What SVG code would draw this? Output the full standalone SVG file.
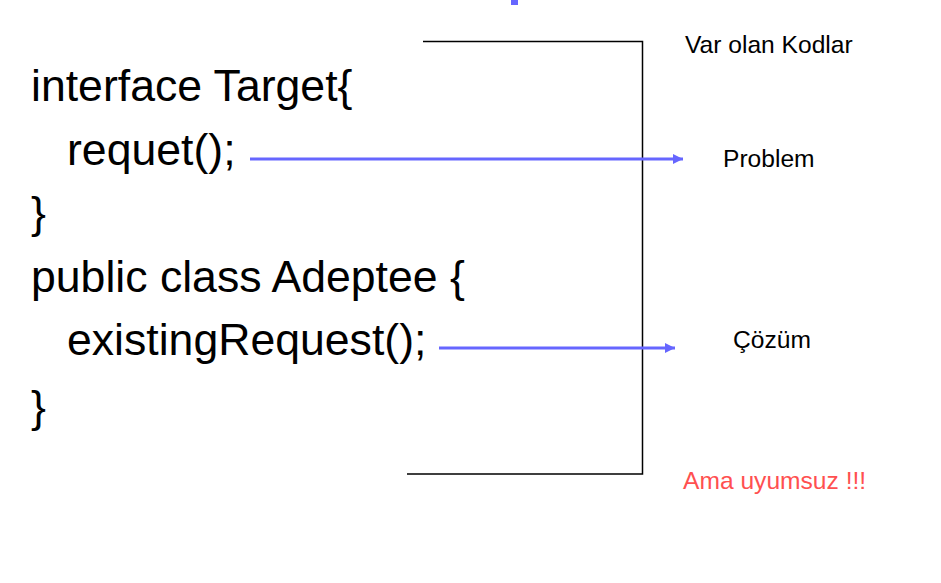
<svg xmlns="http://www.w3.org/2000/svg" width="941" height="583" viewBox="0 0 941 583">
<style>
.code{font-family:"Liberation Sans",Arial,sans-serif;font-size:44.6px;fill:#000}
.lbl{font-family:"Liberation Sans",Arial,sans-serif;font-size:24.6px;fill:#000}
.red{font-family:"Liberation Sans",Arial,sans-serif;font-size:24.6px;fill:#ff5050}
.br{stroke:#000;stroke-width:1.5;fill:none}
.arr{stroke:#6666ff;stroke-width:3;fill:none;marker-end:url(#ah)}
</style>
<defs>
<marker id="ah" markerUnits="userSpaceOnUse" markerWidth="12" markerHeight="10" refX="10" refY="5" orient="auto">
<path d="M0,0 L10,5 L0,10 Z" fill="#6666ff"/>
</marker>
</defs>
<rect width="941" height="583" fill="#fff"/>
<rect x="511" y="0" width="7" height="5" fill="#6666ff"/>
<g id="code">
<text class="code" x="31" y="101">interface Target{</text>
<text class="code" x="67" y="165">requet();</text>
<text class="code" x="31" y="228">}</text>
<text class="code" x="31" y="292">public class Adeptee {</text>
<text class="code" x="67" y="355">existingRequest();</text>
<text class="code" x="31" y="422">}</text>
</g>
<g id="bracket">
<path class="br" d="M423,41.5 H642.5 V474 H407"/>
</g>
<g id="var-olan-kodlar"><text class="lbl" x="685" y="53">Var olan Kodlar</text></g>
<g id="problem"><text class="lbl" x="723" y="167">Problem</text></g>
<g id="cozum"><text class="lbl" x="733" y="348">Çözüm</text></g>
<g id="ama-uyumsuz"><text class="red" x="683" y="489">Ama uyumsuz !!!</text></g>
<g id="connectors">
<line class="arr" x1="250" y1="159" x2="683" y2="159"/>
<line class="arr" x1="439" y1="348" x2="675" y2="348"/>
</g>
</svg>
